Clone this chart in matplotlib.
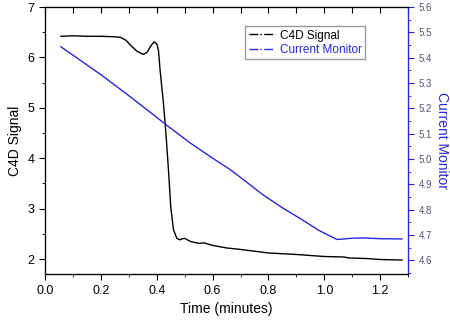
import matplotlib.pyplot as plt
from matplotlib.ticker import MultipleLocator

plt.rcParams['font.family'] = ['Liberation Sans', 'DejaVu Sans']

# C4D signal (left axis)
c4d_time = [0.057, 0.10, 0.15, 0.20, 0.25, 0.27, 0.29, 0.305, 0.33, 0.352, 0.365,
            0.38, 0.391, 0.40, 0.406, 0.412, 0.424, 0.432, 0.442, 0.45, 0.46, 0.472,
            0.484, 0.49, 0.50, 0.52, 0.55, 0.57, 0.60, 0.65, 0.70, 0.80, 0.90,
            1.00, 1.07, 1.09, 1.15, 1.20, 1.278]
c4d_signal = [6.42, 6.43, 6.42, 6.42, 6.41, 6.40, 6.34, 6.25, 6.12, 6.06, 6.10,
              6.24, 6.31, 6.27, 6.15, 5.75, 5.09, 4.56, 3.77, 3.04, 2.58, 2.41,
              2.38, 2.40, 2.41, 2.35, 2.31, 2.32, 2.27, 2.22, 2.19, 2.12, 2.09,
              2.05, 2.04, 2.02, 2.01, 1.99, 1.98]

# current monitor (right axis)
cm_time = [0.057, 0.10, 0.20, 0.30, 0.376, 0.436, 0.52, 0.60, 0.663, 0.72, 0.782,
           0.85, 0.926, 0.98, 1.045, 1.06, 1.10, 1.14, 1.20, 1.278]
cm_value = [5.443, 5.41, 5.333, 5.25, 5.185, 5.133, 5.063, 5.003, 4.958, 4.91, 4.857,
            4.807, 4.756, 4.718, 4.682, 4.683, 4.687, 4.688, 4.685, 4.684]

blue = '#2626dc'

fig, ax = plt.subplots(figsize=(4.5, 3.21), dpi=100)
fig.subplots_adjust(left=0.1, right=0.907, bottom=0.146, top=0.978)
ax2 = ax.twinx()

ax.plot(c4d_time, c4d_signal, color='black', lw=1.0)
ax2.plot(cm_time, cm_value, color=blue, lw=1.0)

ax.set_xlim(0, 1.3)
ax.set_ylim(1.7, 7)
ax2.set_ylim(4.545, 5.6)

ax.xaxis.set_major_locator(MultipleLocator(0.2))
ax.xaxis.set_minor_locator(MultipleLocator(0.1))
ax.yaxis.set_major_locator(MultipleLocator(1))
ax.yaxis.set_minor_locator(MultipleLocator(0.5))
ax2.yaxis.set_major_locator(MultipleLocator(0.1))
ax2.yaxis.set_minor_locator(MultipleLocator(0.05))
ax.xaxis.set_major_formatter(lambda v, p: f'{v:.1f}')
ax2.yaxis.set_major_formatter(lambda v, p: f'{v:.1f}')

ax.tick_params(axis='both', which='major', direction='out', length=4, labelsize=9)
ax.tick_params(axis='both', which='minor', direction='out', length=2)

# top axis: inward ticks every 0.1, no labels
top = ax.twiny()
top.set_xlim(ax.get_xlim())
top.xaxis.set_major_locator(MultipleLocator(0.1))
top.tick_params(axis='x', direction='in', length=4, top=True, labeltop=False,
                bottom=False, labelbottom=False)

ax2.tick_params(axis='y', which='major', direction='out', length=4, colors=blue,
                labelsize=7, labelcolor='#55556f')
ax2.tick_params(axis='y', which='minor', direction='out', length=2, colors=blue)
ax2.spines['right'].set_color(blue)
top.spines['right'].set_color(blue)

ax.set_xlabel('Time (minutes)', fontsize=10)
ax.set_ylabel('C4D Signal', fontsize=10)
ax2.set_ylabel('Current Monitor', fontsize=10, color=blue, rotation=270, labelpad=12)

# legend shows dash-dot handles
h1, = ax.plot([], [], color='black', lw=1.0, ls='-.')
h2, = ax.plot([], [], color=blue, lw=1.0, ls='-.')
leg = ax.legend([h1, h2], ['C4D Signal', 'Current Monitor'], loc='upper right',
                bbox_to_anchor=(0.898, 0.951), fontsize=8.5, fancybox=False,
                framealpha=1, edgecolor='#999999', borderpad=0.3,
                handlelength=2.2, handletextpad=0.4, labelspacing=0.2)
leg.get_texts()[1].set_color(blue)

plt.savefig('out.png', dpi=100)
plt.close()
